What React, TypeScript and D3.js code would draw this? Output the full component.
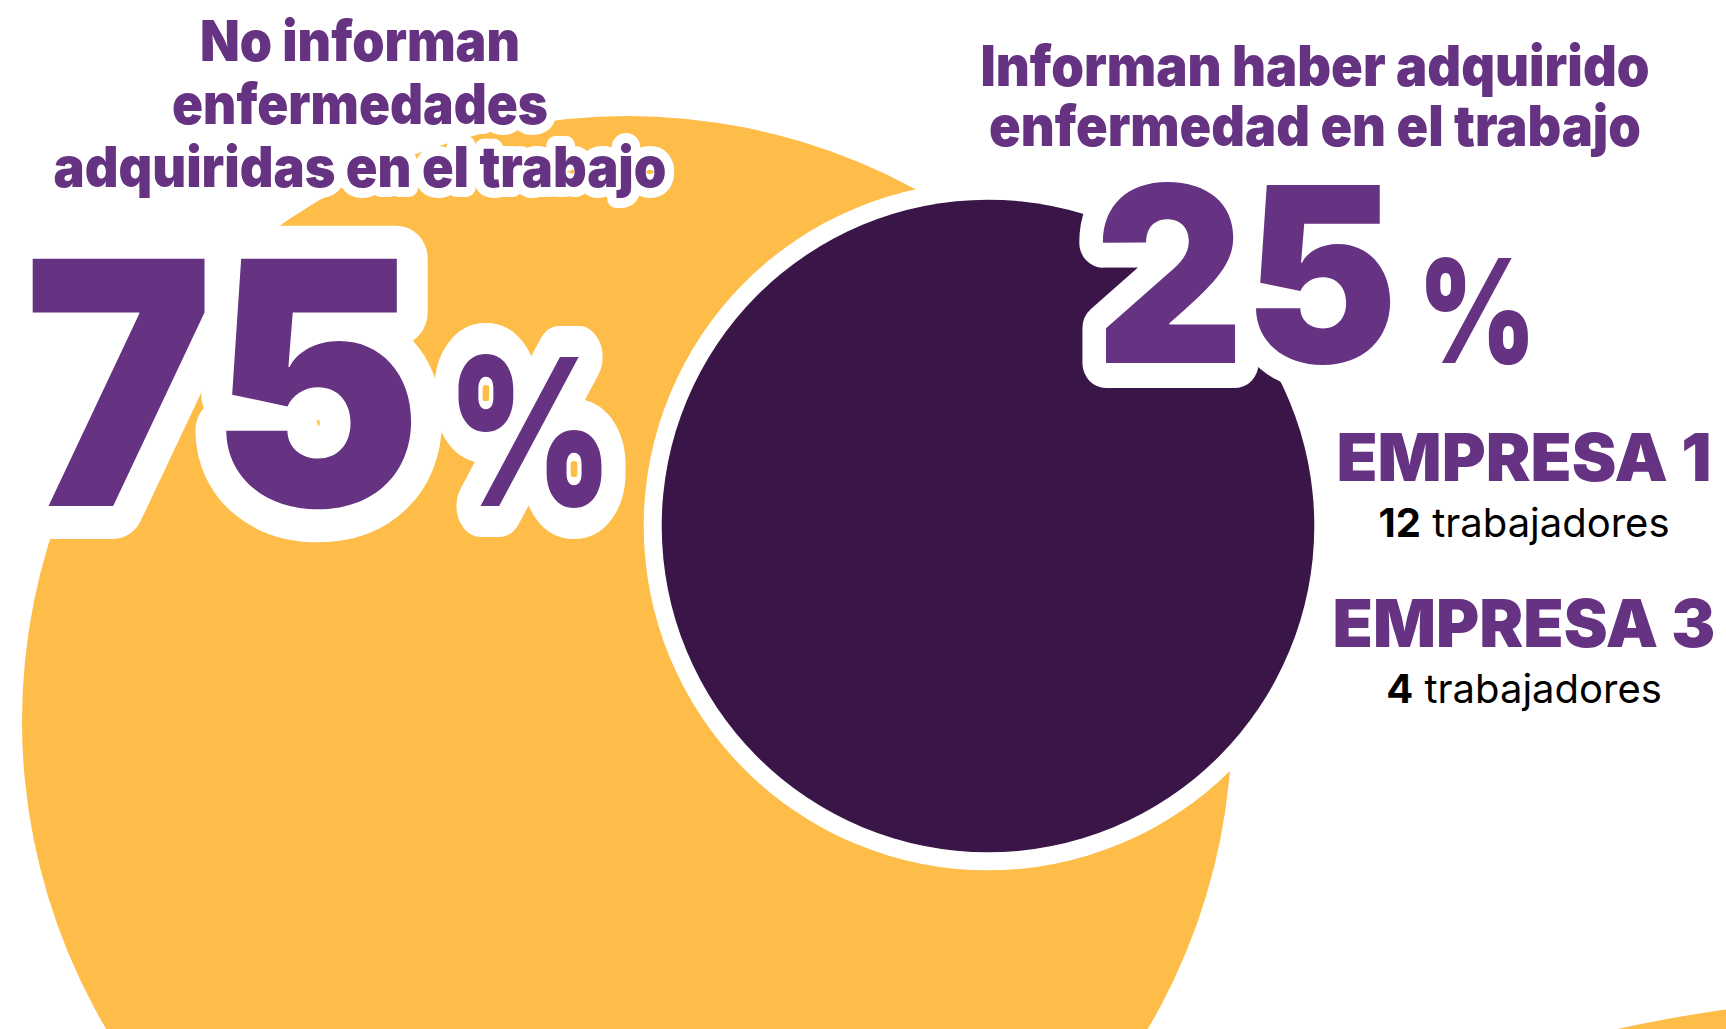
import React from "react";
import * as d3 from "d3";

// shares of workers (percent)
const groups = ["no", "si"];
const shares = [75, 25];
const titleNo = ["No informan", "enfermedades", "adquiridas en el trabajo"];
const titleSi = ["Informan haber adquirido", "enfermedad en el trabajo"];
const companies = ["EMPRESA 1", "EMPRESA 3"];
const workers = [12, 4];

const W = 1726;
const H = 1029;
const YELLOW = "#FDBD48";
const PURPLE = "#663282";
const DARK = "#3A1548";
const FONT = "Inter, 'Open Sans', sans-serif";

function App() {
  const r = d3.scaleSqrt().domain([0, 75]).range([0, 605]);
  const ring = 18;
  const gap = 5; // inner bubble drawn a bit inside its area

  const centers = { no: [627, 721], si: [988, 526] };

  // title line baselines
  const yNo = d3.scaleLinear().domain([0, 2]).range([61, 187]);
  const ySi = d3.scaleLinear().domain([0, 1]).range([86, 146]);
  const noWidths = [320, 376, 613];
  const siWidths = [669, 652];

  const yComp = d3.scaleBand().domain(companies).range([430, 762]).paddingInner(0);

  const outline = (w) => ({
    stroke: "#fff",
    strokeWidth: w,
    strokeLinejoin: "round" as const,
    paintOrder: "stroke",
  });

  return (
    <svg
      width={W}
      height={H}
      style={{ position: "absolute", left: 0, top: 0, background: "#fff" }}
      fontFamily={FONT}
    >
      {/* decorative bubble bottom right */}
      <circle cx={1920} cy={2400} r={1404} fill={YELLOW} />
      {/* 75% bubble */}
      <circle cx={centers.no[0]} cy={centers.no[1]} r={r(shares[0])} fill={YELLOW} />
      {/* 25% bubble */}
      <circle cx={centers.si[0]} cy={centers.si[1]} r={r(shares[1]) - gap} fill="#fff" />
      <circle cx={centers.si[0]} cy={centers.si[1]} r={r(shares[1]) - gap - ring} fill={DARK} />

      {/* left title */}
      {titleNo.map((t, i) => (
        <text
          key={t}
          x={360 - noWidths[i] / 2}
          y={yNo(i)}
          fontSize={56}
          fontWeight={900}
          fill={PURPLE}
          textLength={noWidths[i]}
          lengthAdjust="spacingAndGlyphs"
          {...outline(20)}
        >
          {t}
        </text>
      ))}

      {/* right title */}
      {titleSi.map((t, i) => (
        <text
          key={t}
          x={1315 - siWidths[i] / 2}
          y={ySi(i)}
          fontSize={56}
          fontWeight={900}
          fill={PURPLE}
          textLength={siWidths[i]}
          lengthAdjust="spacingAndGlyphs"
        >
          {t}
        </text>
      ))}

      {/* 75 % */}
      <text
        x={24}
        y={506}
        fontSize={340}
        fontWeight={900}
        fill={PURPLE}
        textLength={398}
        lengthAdjust="spacingAndGlyphs"
        {...outline(66)}
      >
        {shares[0]}
      </text>
      <text
        x={447}
        y={506}
        fontSize={205}
        fontWeight={900}
        fill={PURPLE}
        textLength={166}
        lengthAdjust="spacingAndGlyphs"
        {...outline(62)}
      >
        %
      </text>

      {/* 25 % */}
      <text
        x={1095}
        y={363}
        fontSize={245}
        fontWeight={900}
        fill={PURPLE}
        textLength={303}
        lengthAdjust="spacingAndGlyphs"
        {...outline(50)}
      >
        {shares[1]}
      </text>
      <text
        x={1418}
        y={363}
        fontSize={144}
        fontWeight={900}
        fill={PURPLE}
        textLength={118}
        lengthAdjust="spacingAndGlyphs"
      >
        %
      </text>

      {/* companies */}
      {companies.map((c, i) => {
        const y0 = yComp(c);
        return (
          <g key={c}>
            <text
              x={1524}
              y={y0 + 51}
              textAnchor="middle"
              fontSize={66}
              fontWeight={900}
              fill={PURPLE}
              textLength={i === 0 ? 375 : 383}
              lengthAdjust="spacingAndGlyphs"
            >
              {c}
            </text>
            <text
              x={1524}
              y={y0 + 107}
              textAnchor="middle"
              fontSize={40}
              fill="#000"
            >
              <tspan fontWeight={700}>{workers[i]}</tspan>
              <tspan fontWeight={400}> trabajadores</tspan>
            </text>
          </g>
        );
      })}
    </svg>
  );
}

export default App;
